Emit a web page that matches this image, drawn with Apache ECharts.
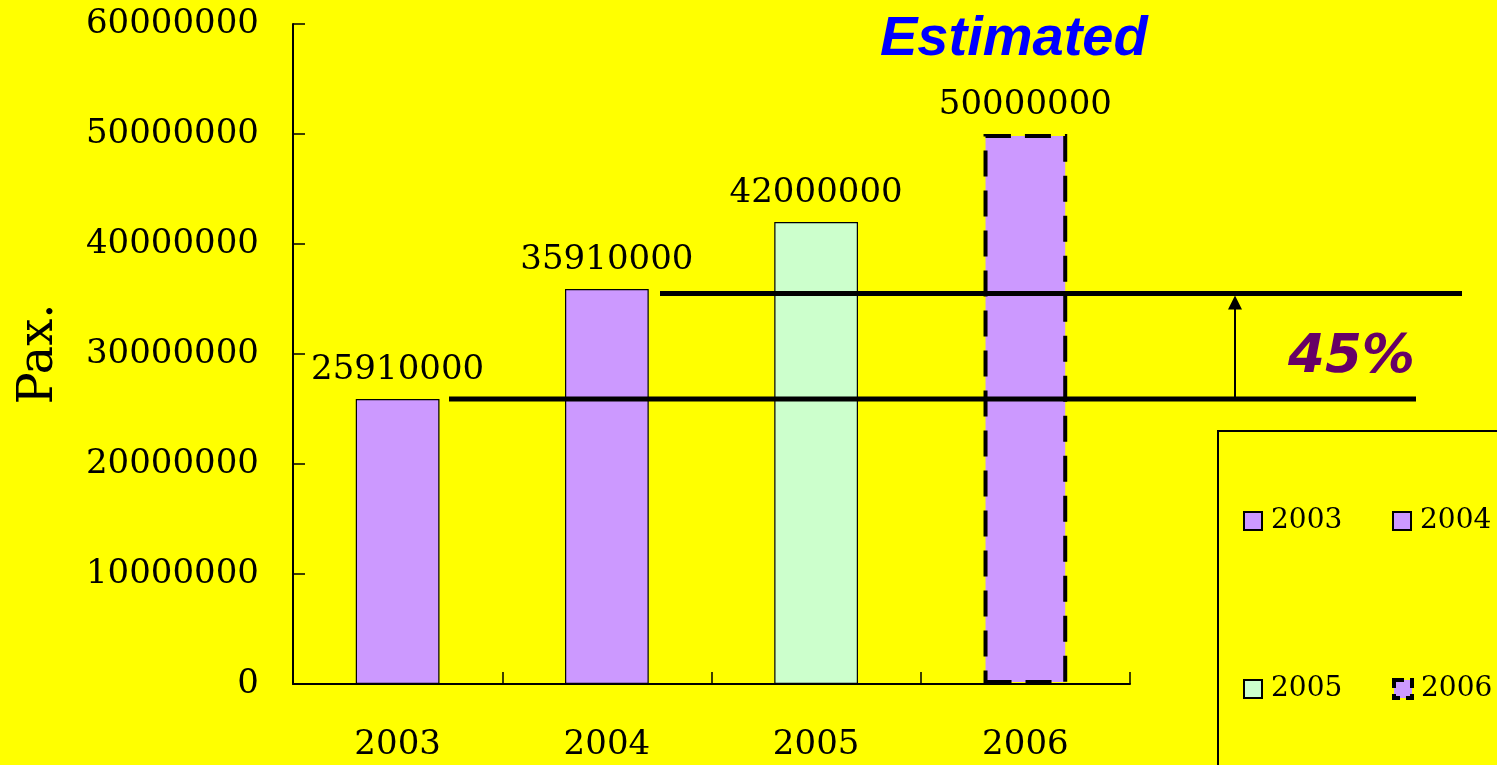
<!DOCTYPE html>
<html>
<head>
<meta charset="utf-8">
<script src="https://cdn.jsdelivr.net/npm/echarts@6/dist/echarts.min.js"></script>
<style>
html,body{margin:0;padding:0;background:#FFFF00;}
#c{width:1497px;height:765px;}
</style>
</head>
<body>
<div id="c"></div>
<script>
// ---- data ----
const categories = ['2003', '2004', '2005', '2006'];
const paxValues = [25910000, 35910000, 42000000, 50000000];
const barColors = ['#CC99FF', '#CC99FF', '#CCFFCC', '#CC99FF'];
const yMin = 0;
const yMax = 60000000;
const yInterval = 10000000;
const yAxisTitle = 'Pax.';
const estimatedText = 'Estimated';
const growthText = '45%';
const baselineValue = 25910000;   // lower reference line
const targetValue = 35500000;     // upper reference line

const serif = 'DejaVu Serif';

const series = categories.map((cat, i) => {
  const data = categories.map((c, j) => (j === i ? paxValues[i] : '-'));
  const dashed = i === 3;
  return {
    name: cat,
    type: 'bar',
    stack: 'all',
    barWidth: '40%',
    data: data,
    itemStyle: {
      color: barColors[i],
      borderColor: '#000',
      borderWidth: dashed ? 4 : 1.2,
      borderType: dashed ? [26, 14] : 'solid'
    },
    label: {
      show: true,
      position: 'top',
      distance: 12,
      fontFamily: serif,
      fontSize: 34,
      color: '#000',
      formatter: p => (p.value === '-' ? '' : String(p.value))
    },
    z: 2
  };
});

// legend grid: 2 columns x 2 rows, one legend per item
const legendCols = [1243, 1392];
const legendRows = [507, 675];
const legends = categories.map((name, i) => {
  const item = name === '2006'
    ? { name: name, itemStyle: { borderWidth: 4, borderType: [10, 6], borderColor: '#000' } }
    : { name: name };
  return {
    data: [item],
    left: legendCols[i % 2],
    top: legendRows[Math.floor(i / 2)],
    orient: 'horizontal',
    itemWidth: 18,
    itemHeight: 18,
    icon: 'rect',
    padding: 0,
    textStyle: { fontFamily: serif, fontSize: 28, color: '#000', lineHeight: 18, padding: [0, 0, 0, 4] }
  };
});

const chart = echarts.init(document.getElementById('c'));
chart.setOption({
  backgroundColor: '#FFFF00',
  animation: false,
  grid: { left: 293, right: 367, top: 24, bottom: 81, containLabel: false, outerBoundsMode: 'none' },
  legend: legends,
  xAxis: {
    type: 'category',
    data: categories,
    boundaryGap: true,
    axisLine: { lineStyle: { color: '#000', width: 2 } },
    axisTick: { show: true, inside: true, length: 12, lineStyle: { color: '#000', width: 1.5 } },
    axisLabel: { fontFamily: serif, fontSize: 34, color: '#000', margin: 44 },
    splitLine: { show: false }
  },
  yAxis: {
    type: 'value',
    min: yMin,
    max: yMax,
    interval: yInterval,
    name: yAxisTitle,
    nameLocation: 'middle',
    nameRotate: 90,
    nameGap: 229,
    nameTextStyle: { fontFamily: serif, fontSize: 48, color: '#000' },
    axisLine: { show: true, lineStyle: { color: '#000', width: 2 } },
    axisTick: { show: true, inside: true, length: 12, lineStyle: { color: '#000', width: 1.5 } },
    axisLabel: { fontFamily: serif, fontSize: 34, color: '#000', margin: 34, formatter: v => String(v) },
    splitLine: { show: false }
  },
  series: series
});

// annotations positioned via the axis scales
const yLow = chart.convertToPixel({ yAxisIndex: 0 }, baselineValue);
const yUp = chart.convertToPixel({ yAxisIndex: 0 }, targetValue);
const arrowX = 1235;

chart.setOption({
  graphic: [
    { type: 'line', z: 10, shape: { x1: 449, y1: yLow, x2: 1416, y2: yLow }, style: { stroke: '#000', lineWidth: 5 } },
    { type: 'line', z: 10, shape: { x1: 660, y1: yUp, x2: 1462, y2: yUp }, style: { stroke: '#000', lineWidth: 5 } },
    { type: 'line', z: 10, shape: { x1: arrowX, y1: yLow, x2: arrowX, y2: yUp + 14 }, style: { stroke: '#000', lineWidth: 2 } },
    { type: 'polygon', z: 10, shape: { points: [[arrowX, yUp + 2], [arrowX - 7, yUp + 16], [arrowX + 7, yUp + 16]] }, style: { fill: '#000' } },
    { type: 'text', z: 10, left: 880, top: 12, style: { text: estimatedText, fontFamily: 'Liberation Sans', fontWeight: 'bold', fontStyle: 'italic', fontSize: 56, fill: '#0000FF' } },
    { type: 'text', z: 10, left: 1288, top: 332, style: { text: growthText, fontFamily: 'DejaVu Sans', fontWeight: 'bold', fontStyle: 'italic', fontSize: 53, fill: '#660066' } },
    { type: 'rect', z: 1, shape: { x: 1218, y: 431, width: 320, height: 400 }, style: { fill: null, stroke: '#000', lineWidth: 2 } }
  ]
});
</script>
</body>
</html>
